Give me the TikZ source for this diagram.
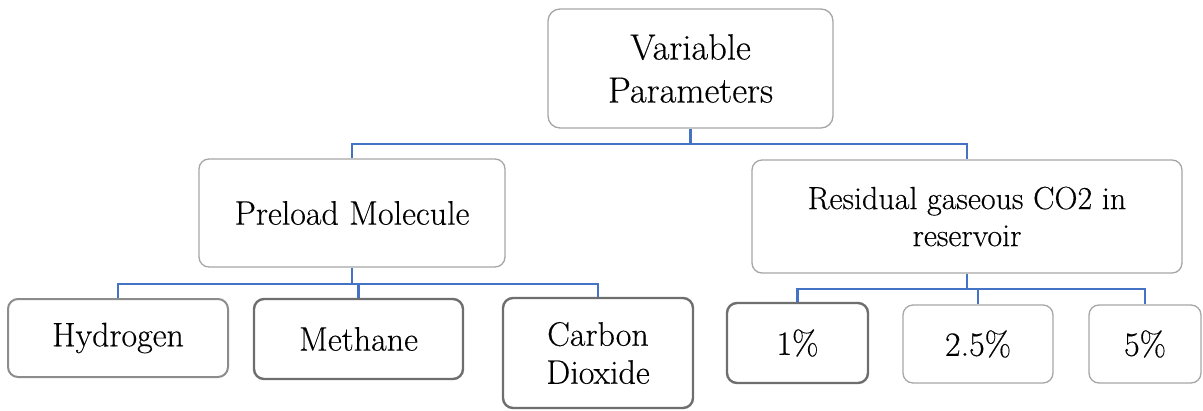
\documentclass[tikz,border=0pt]{standalone}
\usepackage{fontspec}
\setmainfont{Latin Modern Roman}[FakeBold=0.3]
\usepackage{tikz}
\definecolor{linkblue}{HTML}{4472C4}
\definecolor{lightgrey}{HTML}{A6A6A6}
\definecolor{midgrey}{HTML}{8C8C8C}
\definecolor{darkgrey}{HTML}{6E6E6E}
\begin{document}
\begin{tikzpicture}[x=1pt,y=1pt,
  box/.style={rectangle, rounded corners=10pt, inner sep=0pt, align=center,
    fill=white, font=\fontsize{34}{38}\selectfont},
  thinbox/.style={box, draw=lightgrey, line width=1.3pt},
  midbox/.style={box, draw=midgrey, line width=2pt},
  thickbox/.style={box, draw=darkgrey, line width=2.4pt},
  conn/.style={draw=linkblue, line width=2.3pt}]
\useasboundingbox (0,0) rectangle (1203,-410);
% boxes
\node[thinbox, rounded corners=12pt, minimum width=285, minimum height=119,
  font=\fontsize{36.5}{43}\selectfont] (top) at (690.5,-68.5) {Variable\\Parameters};
\node[thinbox, minimum width=306, minimum height=108] (pre) at (352,-213) {Preload Molecule};
\node[thinbox, minimum width=430, minimum height=113,
  font=\fontsize{32}{37}\selectfont] (res) at (967,-216.5) {Residual gaseous CO2 in\\reservoir};
\node[midbox, minimum width=220, minimum height=78] (hyd) at (118,-338) {Hydrogen};
\node[thickbox, minimum width=209, minimum height=80] (met) at (358.5,-339) {Methane};
\node[thickbox, minimum width=190, minimum height=110] (cdx) at (598,-353) {Carbon\\Dioxide};
\node[thickbox, minimum width=141, minimum height=80] (p1) at (797.5,-343) {1\%};
\node[thinbox, minimum width=150, minimum height=78] (p25) at (978,-344) {2.5\%};
\node[thinbox, minimum width=112, minimum height=78] (p5) at (1145,-344) {5\%};
% connectors
\coordinate (railA) at (690.5,-144);
\coordinate (railB) at (352,-284);
\coordinate (railC) at (967,-289);
\draw[conn] (top.south) -- (railA);
\draw[conn] (railA) -| (pre.north);
\draw[conn] (railA) -| (res.north);
\draw[conn] (pre.south) -- (railB);
\draw[conn] (railB) -| (hyd.north);
\draw[conn] (railB) -| (met.north);
\draw[conn] (railB) -| (cdx.north);
\draw[conn] (res.south) -- (railC);
\draw[conn] (railC) -| (p1.north);
\draw[conn] (railC) -| (p25.north);
\draw[conn] (railC) -| (p5.north);
\end{tikzpicture}
\end{document}
